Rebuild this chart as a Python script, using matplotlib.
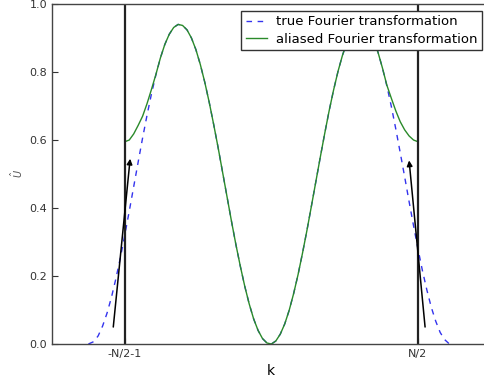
import numpy as np
import matplotlib
matplotlib.use('Agg')
import matplotlib.pyplot as plt

# true transform, every half unit of k
k_true = [-21.1, -20.5, -20, -19.5, -19, -18.5, -18, -17.5, -17, -16.5, -16, -15.5,
          -15, -14.5, -14, -13.5, -13, -12.5, -12, -11.5, -11, -10.5, -10, -9.5,
          -9, -8.5, -8, -7.5, -7, -6.5, -6, -5.5, -5, -4.5, -4, -3.5, -3, -2.5,
          -2, -1.5, -1, -0.5, 0, 0.5, 1, 1.5, 2, 2.5, 3, 3.5, 4, 4.5, 5, 5.5, 6,
          6.5, 7, 7.5, 8, 8.5, 9, 9.5, 10, 10.5, 11, 11.5, 12, 12.5, 13, 13.5,
          14, 14.5, 15, 15.5, 16, 16.5, 17, 17.5, 18, 18.5, 19, 19.5, 19.7]
u_true = [0.0, 0.007, 0.024, 0.053, 0.091, 0.138, 0.193, 0.254, 0.321, 0.391,
          0.463, 0.535, 0.606, 0.673, 0.736, 0.792, 0.841, 0.881, 0.911, 0.931,
          0.940, 0.937, 0.924, 0.900, 0.866, 0.822, 0.770, 0.711, 0.646, 0.578,
          0.506, 0.434, 0.362, 0.293, 0.229, 0.170, 0.118, 0.074, 0.040, 0.016,
          0.003, 0.000, 0.009, 0.029, 0.059, 0.099, 0.148, 0.204, 0.267, 0.334,
          0.405, 0.477, 0.549, 0.619, 0.686, 0.747, 0.802, 0.849, 0.887, 0.916,
          0.933, 0.940, 0.935, 0.920, 0.894, 0.858, 0.812, 0.759, 0.699, 0.633,
          0.563, 0.492, 0.419, 0.348, 0.280, 0.216, 0.159, 0.108, 0.067, 0.034,
          0.013, 0.001, 0.0]

# aliased transform, only between the two cut-off lines
k_alias = [-17, -16.5, -16, -15.5, -15, -14.5, -14, -13.5, -13, -12.5, -12, -11.5,
           -11, -10.5, -10, -9.5, -9, -8.5, -8, -7.5, -7, -6.5, -6, -5.5, -5,
           -4.5, -4, -3.5, -3, -2.5, -2, -1.5, -1, -0.5, 0, 0.5, 1, 1.5, 2, 2.5,
           3, 3.5, 4, 4.5, 5, 5.5, 6, 6.5, 7, 7.5, 8, 8.5, 9, 9.5, 10, 10.5, 11,
           11.5, 12, 12.5, 13, 13.5, 14, 14.5, 15, 15.5, 16]
u_alias = [0.595, 0.600, 0.618, 0.643, 0.670, 0.707, 0.749, 0.793, 0.841, 0.881,
           0.911, 0.931, 0.940, 0.937, 0.924, 0.900, 0.866, 0.822, 0.770, 0.711,
           0.646, 0.578, 0.506, 0.434, 0.362, 0.293, 0.229, 0.170, 0.118, 0.074,
           0.040, 0.016, 0.003, 0.000, 0.009, 0.029, 0.059, 0.099, 0.148, 0.204,
           0.267, 0.334, 0.405, 0.477, 0.549, 0.619, 0.686, 0.747, 0.802, 0.849,
           0.887, 0.916, 0.933, 0.940, 0.935, 0.920, 0.894, 0.858, 0.812, 0.761,
           0.723, 0.686, 0.654, 0.630, 0.612, 0.600, 0.595]

k_cut = [-17, 16]
cut_labels = ['-N/2-1', 'N/2']

# arrows (start, end) showing the folded contribution
arrows = [((-18.3, 0.05), (-16.4, 0.545)),
          ((16.8, 0.05), (15.0, 0.54))]

fig = plt.figure(figsize=(4.84, 3.83), dpi=100)
ax = fig.add_axes([0.1074, 0.1018, 0.903, 0.8877])

ax.plot(k_true, u_true, '--', color='#3333ee', lw=1.0, dashes=(4, 4),
        label='true Fourier transformation')
ax.plot(k_alias, u_alias, '-', color='#2a8a2a', lw=1.0,
        label='aliased Fourier transformation')

for kc in k_cut:
    ax.axvline(kc, color='#222222', lw=1.6)

for start, end in arrows:
    ax.annotate('', xy=end, xytext=start,
                arrowprops=dict(arrowstyle='-|>', color='k', lw=1.1,
                                mutation_scale=8, shrinkA=0, shrinkB=0))

ax.set_xlim(-25.2, 24.0)
ax.set_ylim(0, 1.0)
ax.set_xticks(k_cut)
ax.set_xticklabels(cut_labels)
ax.set_yticks([0.0, 0.2, 0.4, 0.6, 0.8, 1.0])
ax.tick_params(labelsize=8, colors='#333333', direction='in', length=4)

for s in ax.spines.values():
    s.set_color('#444444')
    s.set_linewidth(1.0)

ax.set_xlabel('k', fontsize=10, labelpad=4)
ax.set_ylabel(r'$\hat{U}$', fontsize=7, labelpad=3, color='#555555')

leg = ax.legend(loc='upper right', fontsize=9.5, fancybox=False, framealpha=1,
                edgecolor='#333333', handlelength=1.6, handletextpad=0.7,
                borderpad=0.35, labelspacing=0.35, borderaxespad=0.5)
leg.get_frame().set_linewidth(1.0)

fig.savefig('out.png', dpi=100)
